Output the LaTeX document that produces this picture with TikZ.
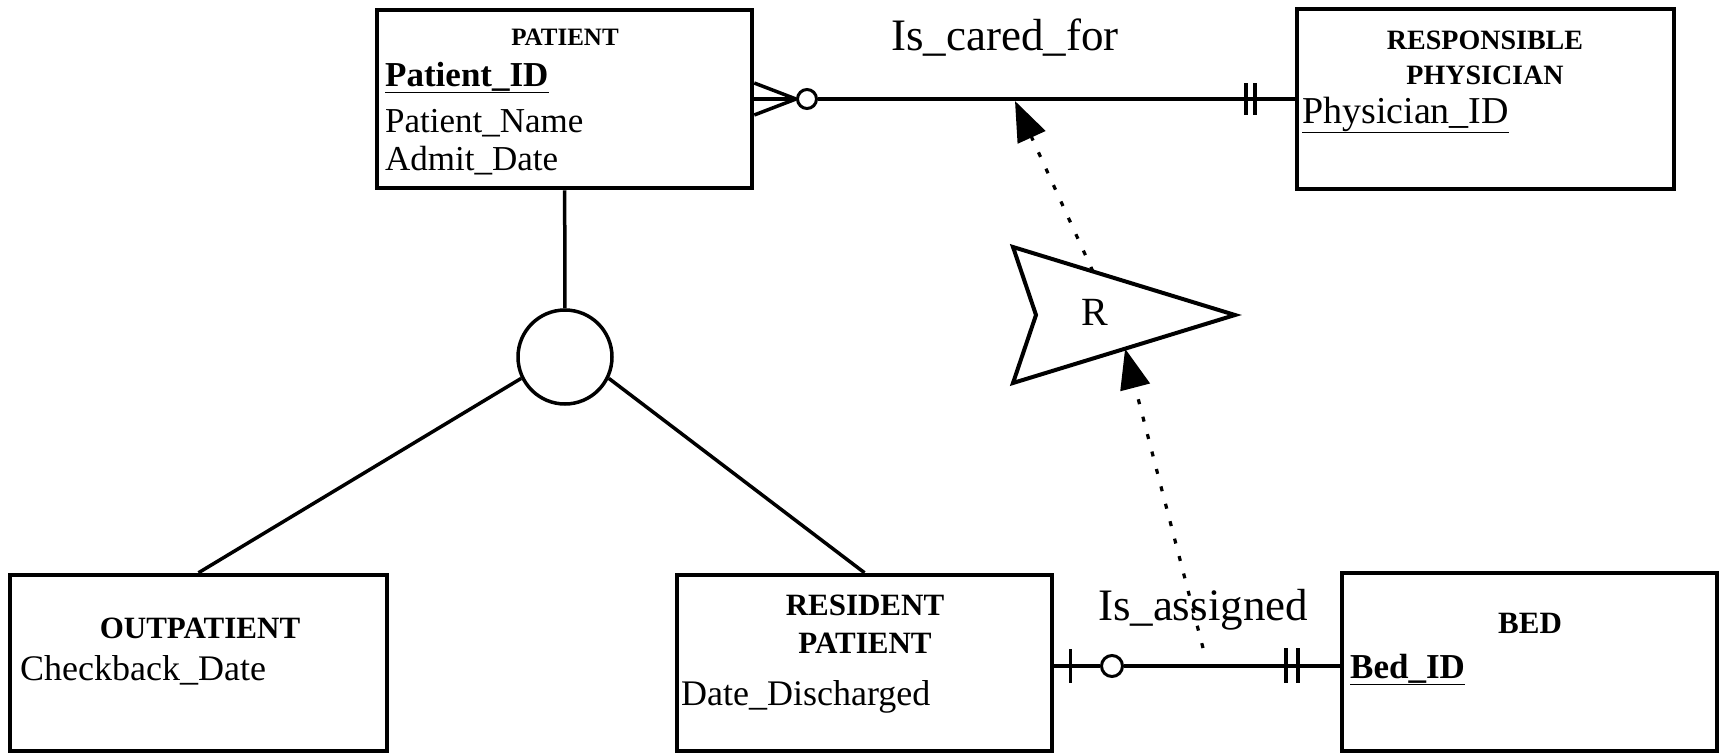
\documentclass[tikz,border=0pt]{standalone}
\usepackage{fontspec}
\setmainfont{Liberation Serif}
\usepackage{tikz}
\usetikzlibrary{arrows.meta,calc}

\begin{document}
\begin{tikzpicture}[x=1pt,y=-1pt,
	entity/.style={shape=rectangle,draw=black,line width=4.5pt,inner sep=0pt},
	tophead/.style={inner sep=0pt,anchor=base,font=\bfseries\fontsize{25}{30}\selectfont},
	head/.style={inner sep=0pt,anchor=base,font=\bfseries\fontsize{31}{36}\selectfont},
	attr/.style={inner sep=0pt,anchor=base west,font=\fontsize{35}{40}\selectfont},
	rel/.style={inner sep=0pt,anchor=base,font=\fontsize{45}{50}\selectfont},
	conn/.style={line width=3.5pt},
	optring/.style={shape=circle,draw=black,line width=3pt,minimum size=19pt,inner sep=0pt},
	dep/.style={line width=3.2pt,dash pattern=on 5pt off 13pt,-{Triangle[length=40pt,width=30pt]}}]

	\useasboundingbox (0,0) rectangle (1719,755);

	\node[entity,minimum width=375pt,minimum height=178pt] (patient) at (564.5, 99) {};
	\node[entity,minimum width=377pt,minimum height=180pt] (physician) at (1485.5, 99) {};
	\node[entity,minimum width=377pt,minimum height=176pt] (outpatient) at (198.5, 663) {};
	\node[entity,minimum width=375pt,minimum height=176pt] (resident) at (864.5, 663) {};
	\node[entity,minimum width=375pt,minimum height=178pt] (bed) at (1529.5, 662) {};
	\node[shape=circle,draw=black,line width=3.5pt,minimum size=94pt,inner sep=0pt] (isa) at (565, 357) {};

	\node[tophead] (patienthead) at (565, 45) {PATIENT};
	\node[attr] (patientid) at (385, 86) {\bfseries\underline{Patient\_ID}};
	\node[attr] (patientname) at (385, 132) {Patient\_Name};
	\node[attr] (admitdate) at (385, 170) {Admit\_Date};

	\node[tophead,font=\bfseries\fontsize{28}{32}\selectfont] (physhead1) at (1485, 49) {RESPONSIBLE};
	\node[tophead,font=\bfseries\fontsize{28}{32}\selectfont] (physhead2) at (1485, 84) {PHYSICIAN};
	\node[attr,font=\fontsize{38}{42}\selectfont] (physicianid) at (1302, 123) {\underline{Physician\_ID}};

	\node[head] (outhead) at (200, 638) {OUTPATIENT};
	\node[attr,font=\fontsize{36}{40}\selectfont] (checkback) at (20, 680) {Checkback\_Date};

	\node[head] (reshead1) at (865, 615) {RESIDENT};
	\node[head] (reshead2) at (865, 653) {PATIENT};
	\node[attr,font=\fontsize{36}{40}\selectfont] (discharged) at (681, 705) {Date\_Discharged};

	\node[head] (bedhead) at (1530, 633) {BED};
	\node[attr] (bedid) at (1350, 678) {\bfseries\underline{Bed\_ID}};

	\node[rel] (caredfor) at (1005, 50) {Is\_cared\_for};
	\node[rel] (assigned) at (1203, 620) {Is\_assigned};

	\path[conn] (patient) edge (isa);
	\path[conn] (isa.206) edge (outpatient.north);
	\path[conn] (isa.334) edge (resident.north);

	\node[optring] (careopt) at (807, 99) {};
	\path[conn] (patient.east) edge (careopt.west);
	\path[conn] ([yshift=16pt]patient.east) edge (careopt.west);
	\path[conn] ([yshift=-16pt]patient.east) edge (careopt.west);
	\path[conn] (careopt.east) edge (physician.west);
	\path[conn] ([xshift=-49pt,yshift=16pt]physician.west) edge ([xshift=-49pt,yshift=-16pt]physician.west);
	\path[conn] ([xshift=-40pt,yshift=16pt]physician.west) edge ([xshift=-40pt,yshift=-16pt]physician.west);

	\node[optring,minimum size=21pt] (assignopt) at (1112, 666) {};
	\path[conn] ([yshift=-3pt]resident.east) edge (assignopt.west);
	\path[conn] (assignopt.east) edge ([yshift=-4pt]bed.west);
	\path[conn] ([xshift=16pt,yshift=14pt]resident.east) edge ([xshift=16pt,yshift=-20pt]resident.east);
	\path[conn] ([xshift=-54pt,yshift=14pt]bed.west) edge ([xshift=-54pt,yshift=-21pt]bed.west);
	\path[conn] ([xshift=-42pt,yshift=14pt]bed.west) edge ([xshift=-42pt,yshift=-21pt]bed.west);

	\coordinate (rtl) at (1013, 247);
	\coordinate (rtip) at (1235, 315);
	\coordinate (rbl) at (1013, 383);
	\coordinate (rnotch) at (1036, 315);
	\draw[line width=4pt,line join=miter] (rtl) -- (rtip) -- (rbl) -- (rnotch) -- cycle;
	\node[inner sep=0pt,font=\fontsize{40}{44}\selectfont] (rname) at (1095, 312) {R};

	\coordinate (rtop) at ($(rtl)!0.36!(rtip)$);
	\coordinate (rbot) at ($(rbl)!0.505!(rtip)$);
	\coordinate (caredpt) at (1015, 101);
	\coordinate (assignpt) at (1203, 648);
	\path[dep] (rtop) edge (caredpt);
	\path[dep] (assignpt) edge (rbot);
\end{tikzpicture}
\end{document}
